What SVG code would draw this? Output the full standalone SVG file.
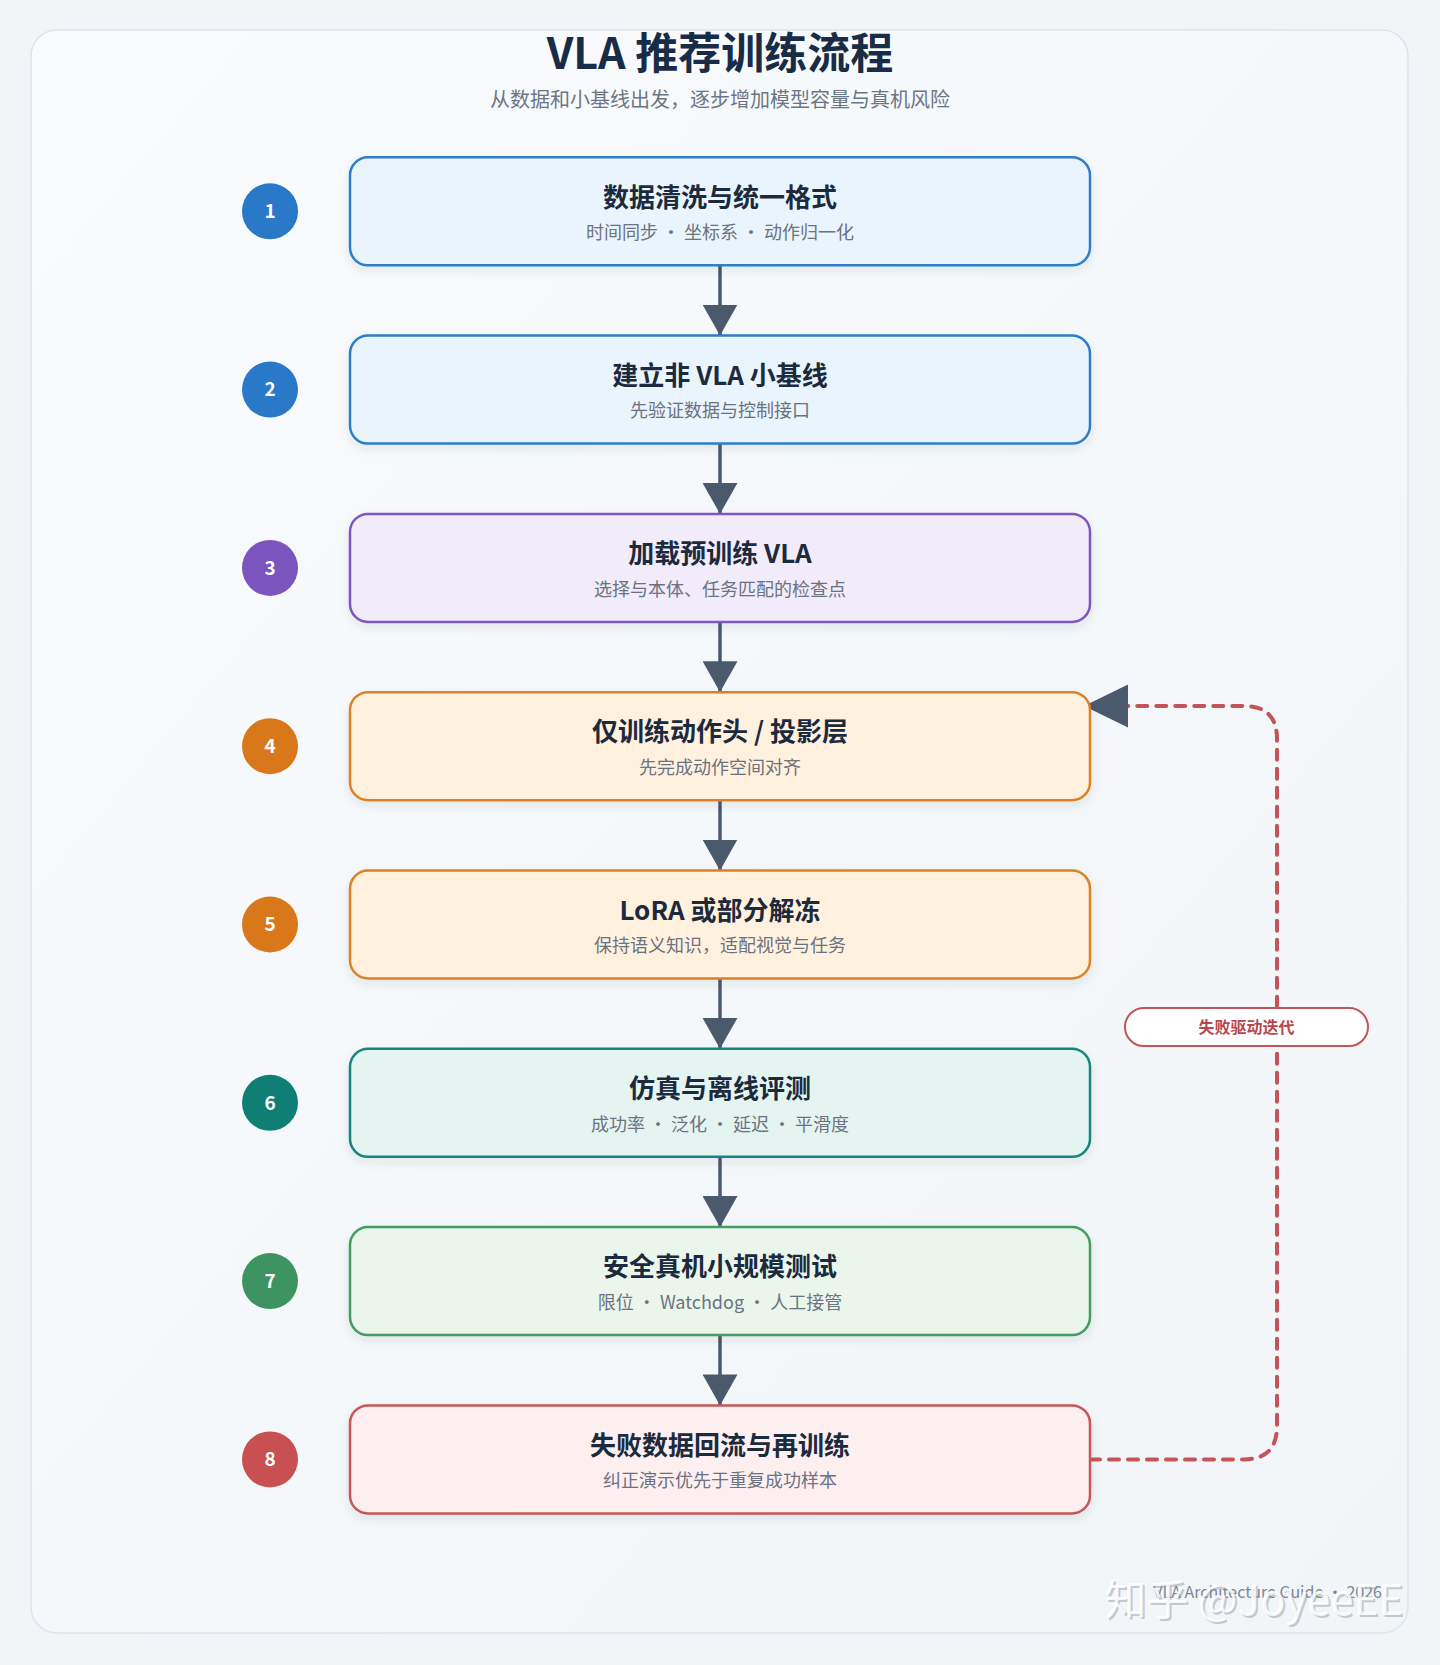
<svg xmlns="http://www.w3.org/2000/svg" width="1440" height="1665" viewBox="0 0 1440 1665">
  <style>
    .cjk { font-family: "Noto Sans CJK SC", "Noto Sans", sans-serif; }
    .title { font-size: 43px; font-weight: 700; fill: #182c45; text-anchor: middle; }
    .sub { font-size: 20px; fill: #6b7685; text-anchor: middle; }
    .ntitle { font-size: 26px; font-weight: 700; fill: #1b2a3d; text-anchor: middle; }
    .ndesc { font-size: 18px; fill: #6b7280; text-anchor: middle; }
    .badge-num { font-size: 19px; font-weight: 700; fill: #ffffff; text-anchor: middle; }
    .node { stroke-width: 2.5; }
    .blue { fill: #eaf4fd; stroke: #2f7dc9; }
    .purple { fill: #f1ebfa; stroke: #7e57c2; }
    .orange { fill: #fff1dd; stroke: #dc8226; }
    .teal { fill: #e4f5f1; stroke: #16857b; }
    .green { fill: #eaf6ec; stroke: #449c5f; }
    .red { fill: #fdeff0; stroke: #c8555a; }
    .flow { stroke: #4b596c; stroke-width: 3.5; fill: none; }
    .loop { stroke: #c2545a; stroke-width: 4; fill: none; stroke-dasharray: 10 9; stroke-linecap: round; }
  </style>
  <defs>
    <linearGradient id="panelGrad" x1="0" y1="0" x2="1" y2="1">
      <stop offset="0" stop-color="#f9fbfd"/>
      <stop offset="1" stop-color="#f1f5f8"/>
    </linearGradient>
    <filter id="shadow" x="-10%" y="-20%" width="120%" height="150%">
      <feDropShadow dx="0" dy="4" stdDeviation="5" flood-color="#1e293b" flood-opacity="0.09"/>
    </filter>
    <marker id="arrowDown" viewBox="0 0 31 35" refX="31" refY="17.5" markerWidth="31" markerHeight="35" markerUnits="userSpaceOnUse" orient="auto">
      <path d="M0,0 L31,17.5 L0,35 z" fill="#4b596c"/>
    </marker>
    <marker id="arrowLoop" viewBox="0 0 44 43" refX="44" refY="21.5" markerWidth="44" markerHeight="43" markerUnits="userSpaceOnUse" orient="auto">
      <path d="M0,0 L44,21.5 L0,43 z" fill="#4b596c"/>
    </marker>
  </defs>

  <rect x="0" y="0" width="1440" height="1665" fill="#f2f5f8"/>
  <rect x="31" y="30" width="1377" height="1603" rx="26" fill="url(#panelGrad)" stroke="#dfe4ea" stroke-width="1.5"/>

  <g id="header">
    <text class="cjk title" x="720" y="69">VLA 推荐训练流程</text>
    <text class="cjk sub" x="720" y="107">从数据和小基线出发，逐步增加模型容量与真机风险</text>
  </g>

  <g id="connectors">
    <line class="flow" x1="720" y1="265.3" x2="720" y2="335.6" marker-end="url(#arrowDown)"/>
    <line class="flow" x1="720" y1="443.6" x2="720" y2="513.9" marker-end="url(#arrowDown)"/>
    <line class="flow" x1="720" y1="621.9" x2="720" y2="692.2" marker-end="url(#arrowDown)"/>
    <line class="flow" x1="720" y1="800.2" x2="720" y2="870.5" marker-end="url(#arrowDown)"/>
    <line class="flow" x1="720" y1="978.5" x2="720" y2="1048.8" marker-end="url(#arrowDown)"/>
    <line class="flow" x1="720" y1="1156.8" x2="720" y2="1227.1" marker-end="url(#arrowDown)"/>
    <line class="flow" x1="720" y1="1335.1" x2="720" y2="1405.4" marker-end="url(#arrowDown)"/>
    <path class="loop" d="M1090,1459.4 H1244 Q1277,1459.4 1277,1426 V739 Q1277,706 1244,706 H1084" marker-end="url(#arrowLoop)"/>
    <g id="loop-label">
      <rect x="1125" y="1008" width="243" height="38" rx="19" fill="#ffffff" stroke="#c2545a" stroke-width="2"/>
      <text class="cjk" x="1246.5" y="1033" font-size="16" font-weight="700" fill="#b9464c" text-anchor="middle">失败驱动迭代</text>
    </g>
  </g>

  <g id="node1">
    <circle cx="270" cy="211.3" r="28" fill="#2a78c8"/>
    <text class="cjk badge-num" x="270" y="218">1</text>
    <rect class="node blue" x="350" y="157.3" width="740" height="108" rx="18" filter="url(#shadow)"/>
    <text class="cjk ntitle" x="720" y="206.5">数据清洗与统一格式</text>
    <text class="cjk ndesc" x="720" y="239" xml:space="preserve">时间同步 · 坐标系 · 动作归一化</text>
  </g>
  <g id="node2">
    <circle cx="270" cy="389.6" r="28" fill="#2a78c8"/>
    <text class="cjk badge-num" x="270" y="396.3">2</text>
    <rect class="node blue" x="350" y="335.6" width="740" height="108" rx="18" filter="url(#shadow)"/>
    <text class="cjk ntitle" x="720" y="384.8">建立非 VLA 小基线</text>
    <text class="cjk ndesc" x="720" y="417.3">先验证数据与控制接口</text>
  </g>
  <g id="node3">
    <circle cx="270" cy="567.9" r="28" fill="#7b55bd"/>
    <text class="cjk badge-num" x="270" y="574.6">3</text>
    <rect class="node purple" x="350" y="513.9" width="740" height="108" rx="18" filter="url(#shadow)"/>
    <text class="cjk ntitle" x="720" y="563.1">加载预训练 VLA</text>
    <text class="cjk ndesc" x="720" y="595.6">选择与本体、任务匹配的检查点</text>
  </g>
  <g id="node4">
    <circle cx="270" cy="746.2" r="28" fill="#d9781a"/>
    <text class="cjk badge-num" x="270" y="752.9">4</text>
    <rect class="node orange" x="350" y="692.2" width="740" height="108" rx="18" filter="url(#shadow)"/>
    <text class="cjk ntitle" x="720" y="741.4">仅训练动作头 / 投影层</text>
    <text class="cjk ndesc" x="720" y="773.9">先完成动作空间对齐</text>
  </g>
  <g id="node5">
    <circle cx="270" cy="924.5" r="28" fill="#d9781a"/>
    <text class="cjk badge-num" x="270" y="931.2">5</text>
    <rect class="node orange" x="350" y="870.5" width="740" height="108" rx="18" filter="url(#shadow)"/>
    <text class="cjk ntitle" x="720" y="919.7">LoRA 或部分解冻</text>
    <text class="cjk ndesc" x="720" y="952.2">保持语义知识，适配视觉与任务</text>
  </g>
  <g id="node6">
    <circle cx="270" cy="1102.8" r="28" fill="#0f7f76"/>
    <text class="cjk badge-num" x="270" y="1109.5">6</text>
    <rect class="node teal" x="350" y="1048.8" width="740" height="108" rx="18" filter="url(#shadow)"/>
    <text class="cjk ntitle" x="720" y="1098">仿真与离线评测</text>
    <text class="cjk ndesc" x="720" y="1130.5" xml:space="preserve">成功率 · 泛化 · 延迟 · 平滑度</text>
  </g>
  <g id="node7">
    <circle cx="270" cy="1281.1" r="28" fill="#3d9460"/>
    <text class="cjk badge-num" x="270" y="1287.8">7</text>
    <rect class="node green" x="350" y="1227.1" width="740" height="108" rx="18" filter="url(#shadow)"/>
    <text class="cjk ntitle" x="720" y="1276.3">安全真机小规模测试</text>
    <text class="cjk ndesc" x="720" y="1308.8" xml:space="preserve">限位 · Watchdog · 人工接管</text>
  </g>
  <g id="node8">
    <circle cx="270" cy="1459.4" r="28" fill="#c84f52"/>
    <text class="cjk badge-num" x="270" y="1466.1">8</text>
    <rect class="node red" x="350" y="1405.4" width="740" height="108" rx="18" filter="url(#shadow)"/>
    <text class="cjk ntitle" x="720" y="1454.6">失败数据回流与再训练</text>
    <text class="cjk ndesc" x="720" y="1487.1">纠正演示优先于重复成功样本</text>
  </g>

  <g id="footer">
    <text class="cjk" x="1382" y="1598" font-size="16" fill="#7c8794" text-anchor="end">VLA Architecture Guide · 2026</text>
    <text class="cjk" x="1405" y="1617" font-size="42" fill="#8a9098" fill-opacity="0.45" text-anchor="end">知乎 @JoyeeEE</text>
    <text class="cjk" x="1403" y="1615" font-size="42" fill="#ffffff" fill-opacity="0.85" text-anchor="end">知乎 @JoyeeEE</text>
  </g>
</svg>
